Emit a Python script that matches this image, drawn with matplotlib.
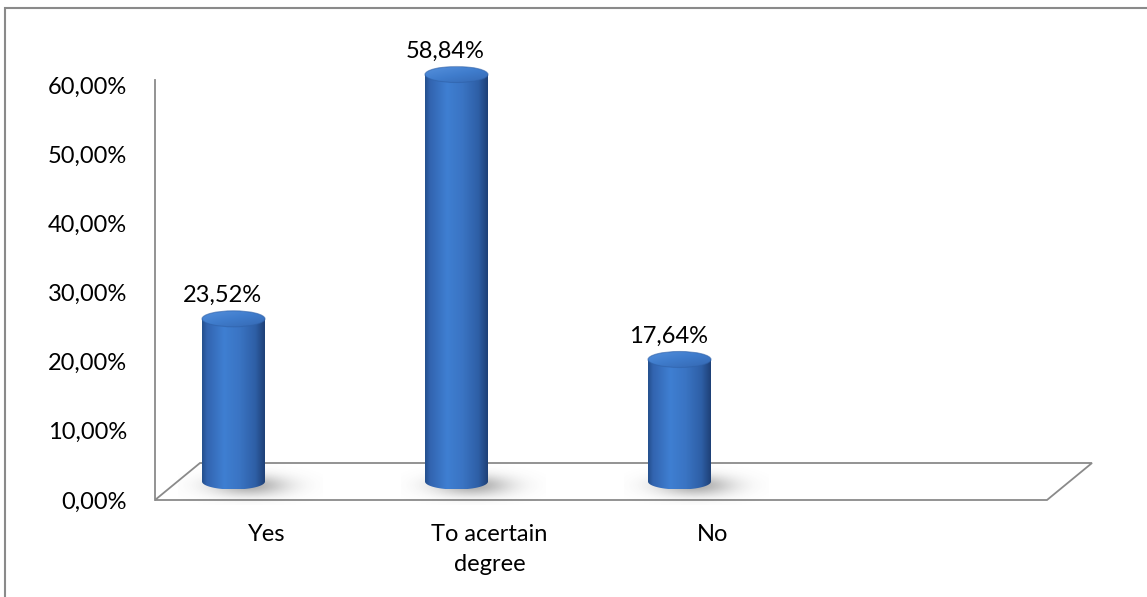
import numpy as np
import matplotlib
matplotlib.use("Agg")
import matplotlib.pyplot as plt
from matplotlib.patches import Polygon, Ellipse, PathPatch, Rectangle
from matplotlib.path import Path
from matplotlib.colors import LinearSegmentedColormap
from matplotlib.ticker import FixedLocator, FuncFormatter

# ---- data ----
categories = ["Yes", "To acertain\ndegree", "No"]
values = [23.52, 58.84, 17.64]
y_ticks = [0, 10, 20, 30, 40, 50, 60]

plt.rcParams['font.family'] = ['Lato', 'DejaVu Sans']
FS = 17

W, H, DPI = 1147, 597, 100
fig = plt.figure(figsize=(W / DPI, H / DPI), dpi=DPI)
fig.patch.set_facecolor("white")

# plot area (pixels from top-left of the canvas)
left_px, right_px, top_px, bottom_px = 155, 1105, 12, 505
zero_px = 500          # pixel row of the 0 % level on the front edge
axis_top_px = 80       # upper end of the vertical axis line
px_x = 223.0           # pixels per category slot
px_y = 6.917           # pixels per percentage point

ax = fig.add_axes([left_px / W, (H - bottom_px) / H,
                   (right_px - left_px) / W, (bottom_px - top_px) / H])
x0 = -78.5 / px_x                      # front-left corner of the floor
xlim = (x0, x0 + (right_px - left_px) / px_x)
ylim = (-(bottom_px - zero_px) / px_y, (zero_px - top_px) / px_y)

# 3-D floor (depth offset of the back edge)
depth_x = 45 / px_x
depth_y = 37 / px_y
n_slots = 4
floor = Polygon([(x0, 0), (x0 + n_slots, 0),
                 (x0 + n_slots + depth_x, depth_y), (x0 + depth_x, depth_y)],
                closed=True, facecolor="white", edgecolor="#8a8a8a",
                linewidth=1.3, zorder=1, joinstyle="miter")
ax.add_patch(floor)

# colour ramps for the cylinders
body_cmap = LinearSegmentedColormap.from_list(
    "body", [(0.0, "#244f8c"), (0.08, "#3264b0"), (0.35, "#3f7fd2"),
             (0.6, "#3a74c3"), (0.85, "#2e5fa6"), (1.0, "#1e4076")])
cap_cmap = LinearSegmentedColormap.from_list(
    "cap", [(0.0, "#3568b2"), (0.5, "#3f7ccc"), (1.0, "#5590dc")])

hw = 31.5 / px_x          # cylinder radius along x
eh = 8.0 / px_y           # half-height of the elliptical ends
base = depth_y / 2        # bars stand in the middle of the floor depth

for i, v in enumerate(values):
    xc = i
    top = base + v

    # soft shadow on the floor
    sx0, sx1 = xc - 0.25, xc + 0.40
    sy0, sy1 = base - 4.5, base + 3.0
    gx, gy = np.meshgrid(np.linspace(sx0, sx1, 120), np.linspace(sy0, sy1, 60))
    a = 0.55 * np.exp(-((gx - (xc + 0.07)) / 0.17) ** 2 - ((gy - (base - 0.6)) / 1.5) ** 2)
    shadow = np.zeros(gx.shape + (4,))
    shadow[..., :3] = 0.42
    shadow[..., 3] = a
    ax.imshow(shadow, extent=[sx0, sx1, sy0, sy1], origin="lower",
              aspect="auto", zorder=2, interpolation="bilinear")

    # cylinder body: rectangle plus lower half ellipse
    t = np.linspace(np.pi, 2 * np.pi, 60)
    verts = [(xc - hw, top), (xc - hw, base)]
    verts += list(zip(xc + hw * np.cos(t), base + eh * np.sin(t)))
    verts += [(xc + hw, top), (xc - hw, top)]
    codes = [Path.MOVETO] + [Path.LINETO] * (len(verts) - 2) + [Path.CLOSEPOLY]
    body = PathPatch(Path(verts, codes), facecolor="none", edgecolor="none")
    ax.add_patch(body)
    grad = np.linspace(0, 1, 256)[None, :]
    im = ax.imshow(grad, cmap=body_cmap, extent=[xc - hw, xc + hw, base - eh, top],
                   origin="lower", aspect="auto", zorder=3, interpolation="bicubic")
    im.set_clip_path(body)

    # top cap
    cap = Ellipse((xc, top), 2 * hw, 2 * eh, facecolor="none", edgecolor="none")
    ax.add_patch(cap)
    u, w = np.meshgrid(np.linspace(0, 1, 80), np.linspace(0, 1, 40))
    cg = np.clip(0.55 * w + 0.45 * (1 - u), 0, 1)
    cim = ax.imshow(cg, cmap=cap_cmap, extent=[xc - hw, xc + hw, top - eh, top + eh],
                    origin="lower", aspect="auto", zorder=4, interpolation="bicubic")
    cim.set_clip_path(cap)
    ax.add_patch(Ellipse((xc, top), 2 * hw, 2 * eh, facecolor="none",
                         edgecolor="#2f61a8", linewidth=0.8, alpha=0.6, zorder=5))

    # value label
    label = f"{v:.2f}%".replace(".", ",")
    ax.text(xc - 11 / px_x, top + eh + 15 / px_y, label, ha="center", va="center",
            fontsize=FS, color="black", zorder=6)

ax.set_xlim(*xlim)
ax.set_ylim(*ylim)

# axes styling
for s in ["top", "right", "bottom"]:
    ax.spines[s].set_visible(False)
ax.spines["left"].set_color("#8a8a8a")
ax.spines["left"].set_linewidth(1.3)
ax.spines["left"].set_bounds(0, (zero_px - axis_top_px) / px_y)

ax.yaxis.set_major_locator(FixedLocator(y_ticks))
ax.yaxis.set_major_formatter(FuncFormatter(lambda val, pos: f"{val:.2f}%".replace(".", ",")))
ax.tick_params(axis="y", length=0, pad=20, labelsize=FS)

ax.set_xticks([i + 33 / px_x for i in range(len(categories))])
ax.set_xticklabels(categories, linespacing=1.5)
ax.tick_params(axis="x", length=0, pad=14, labelsize=FS)
ax.set_facecolor("none")

# chart-area border (runs past the right and bottom of the canvas)
fig.add_artist(Rectangle((4.5 / W, -1.0), 2.0, 1.0 + (H - 7.5) / H,
                         transform=fig.transFigure, fill=False,
                         edgecolor="#8a8a8a", linewidth=1.5))

fig.savefig("out.png", dpi=DPI, facecolor="white")
